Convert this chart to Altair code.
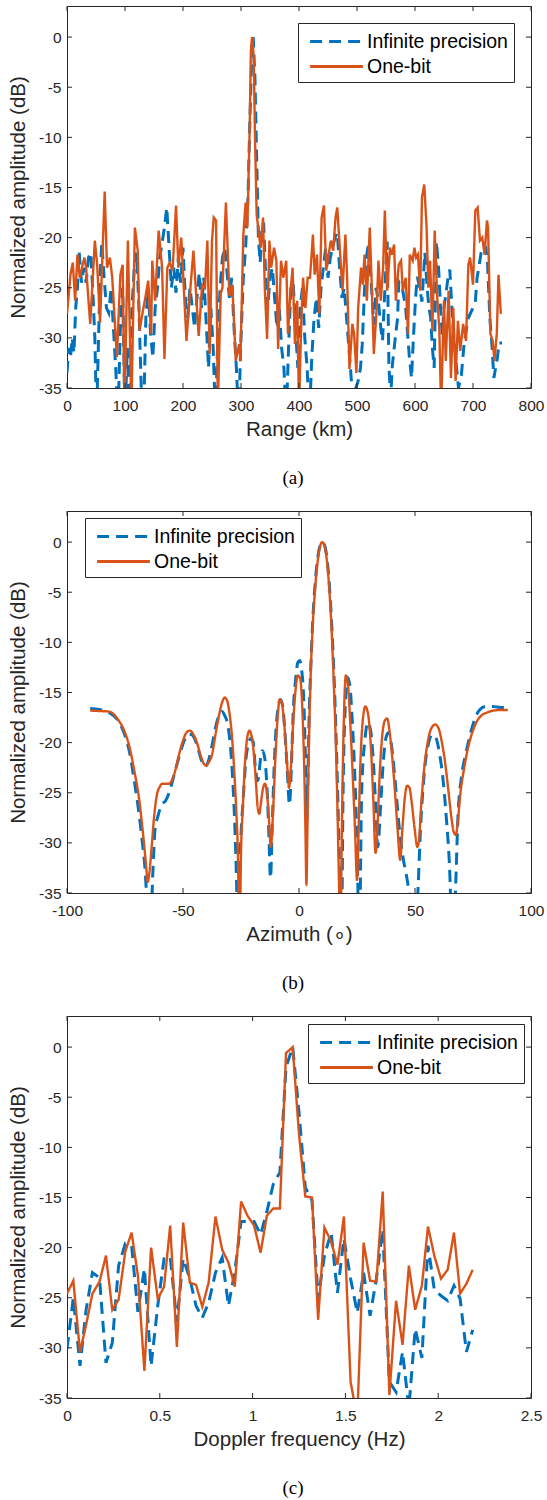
import altair as alt
import pandas as pd

# ---------------- data ----------------
SERIES = ["Infinite precision", "One-bit"]
COLORS = ["#0072BD", "#D95319"]
Y_TICKS = [-35, -30, -25, -20, -15, -10, -5, 0]

# (a) range profile
range_ticks = [0, 100, 200, 300, 400, 500, 600, 700, 800]
range_ip_km = [0, 3, 6, 9, 12, 15, 18, 21, 25, 29, 33, 37, 41, 45, 48, 51, 54, 57, 60, 64, 68,
               72, 76, 80, 84, 88, 92, 96, 100, 104, 108, 112, 116, 120, 124, 128, 132, 136, 140, 144, 148,
               152, 156, 160, 164, 168, 172, 176, 180, 184, 188, 192, 196, 200, 204, 208, 212, 216, 220, 224, 228,
               232, 236, 240, 244, 248, 252, 256, 260, 264, 268, 272, 276, 280, 284, 288, 292, 296, 300, 304, 308,
               312, 315, 318, 321, 324, 327, 330, 333, 336, 339, 342, 346, 350, 354, 358, 362, 366, 370, 374, 378,
               382, 386, 390, 394, 398, 402, 406, 410, 414, 418, 422, 426, 430, 434, 438, 442, 446, 450, 454, 458,
               462, 466, 470, 474, 478, 482, 486, 490, 494, 498, 502, 506, 509, 515, 520, 524, 529, 533, 537, 541,
               544, 549, 552, 555, 558, 561, 566, 570, 572, 578, 584, 590, 594, 597, 601, 604, 608, 612, 617, 621,
               624, 627, 630, 633, 637, 641, 644, 647, 650, 653, 657, 660, 664, 667, 670, 675, 680, 684, 687, 692,
               696, 700, 704, 707, 710, 714, 719, 722, 725, 729, 733, 736, 739, 742, 745, 750]
range_ip_db = [-33.5, -31, -32, -30, -31.5, -27, -25, -21.5, -24.5, -23, -24.5, -22, -21.5, -26, -30, -38, -31, -24, -20.5, -24, -27,
               -27.5, -25, -29, -33, -38, -29, -25, -38, -31, -38, -27, -23, -21.5, -27, -35, -38, -28, -25, -29.5, -32,
               -27, -25, -22, -20.5, -19, -17, -21, -25, -23, -25.5, -22, -24.5, -21, -26, -28, -25, -27, -29, -26, -23.5,
               -27, -24, -28.5, -33, -27, -31, -38, -30, -25, -22, -21, -23.5, -26, -24, -29, -33, -38, -30, -24, -21,
               -16, -9, -3, 0, -4, -12, -20, -22.5, -19, -18.5, -23, -27, -24, -23, -26, -29, -27, -31, -33, -38,
               -31, -25, -24.5, -29, -33, -27, -25, -30, -33, -38, -32, -28, -26, -29, -25, -23, -21, -24, -22, -21,
               -20, -19.5, -23, -26, -25, -28, -31, -34, -38, -35, -34.3, -33, -30.7, -22.4, -20.5, -24, -28.7, -25, -26.4, -29,
               -30.3, -24, -20.4, -32.7, -36, -32.7, -30, -28, -24.4, -25, -27, -31.7, -34, -30.3, -26, -23.9, -25, -26.4, -21.5, -25,
               -27, -28, -31, -33, -20.4, -23.4, -27, -29.7, -27, -25.7, -24, -23.2, -27.4, -30, -32, -35, -33.7, -31, -29.7, -28,
               -27.5, -27, -26.4, -24, -23, -21.5, -20.7, -21, -22.4, -28, -31, -34, -33, -32, -30.5, -30.5]
range_ob_km = [0, 6, 10, 14, 18, 22, 27, 30, 33, 40, 48, 52, 57, 65, 69, 74, 78, 86, 92, 96,
               99, 105, 111, 117, 122, 125, 130, 135, 140, 145, 147, 152, 158, 164, 168, 173, 177, 182, 188, 192,
               197, 206, 211, 218, 227, 233, 238, 242, 246, 250, 253, 257, 260, 265, 268, 274, 280, 285, 291, 297,
               299, 304, 308, 311, 315, 317, 319, 322, 324, 327, 331, 334, 338, 341, 345, 349, 352, 357, 361, 364,
               369, 373, 378, 381, 385, 389, 393, 397, 400, 404, 407, 411, 415, 419, 424, 427, 431, 435, 439, 443,
               447, 451, 455, 459, 463, 466, 471, 475, 480, 483, 487, 492, 495, 499, 502, 507, 510, 513, 517, 522,
               525, 529, 534, 537, 541, 545, 548, 552, 557, 560, 564, 567, 572, 576, 579, 584, 588, 591, 596, 599,
               602, 605, 609, 612, 616, 620, 623, 626, 630, 634, 638, 642, 645, 650, 653, 658, 662, 666, 670, 674,
               678, 683, 688, 692, 695, 700, 704, 708, 712, 716, 720, 724, 726, 730, 734, 737, 741, 744, 748]
range_ob_db = [-27.6, -23.7, -22.5, -26.3, -21.7, -24.0, -22.7, -22.0, -23.0, -28.6, -20.3, -22.7, -28.5, -15.4, -23.0, -22.0, -24.0, -31.9, -23.7, -22.7,
               -37.0, -20.3, -37.0, -19.0, -21.3, -29.3, -27.6, -26.0, -24.3, -29.6, -22.3, -26.3, -19.3, -23.0, -32.1, -23.0, -22.5, -23.3, -16.8, -23.0,
               -20.0, -30.3, -26.3, -21.3, -29.8, -24.7, -25.0, -20.3, -31.6, -20.3, -18.0, -18.3, -37.0, -25.6, -25.0, -16.5, -25.8, -24.7, -32.3, -30.6,
               -32.3, -19.7, -16.5, -19.0, -9.0, -1.4, 0.0, -2.0, -9.7, -17.7, -19.7, -21.0, -18.0, -25.0, -30.1, -20.3, -23.0, -21.0, -22.3, -31.1,
               -22.3, -24.0, -22.3, -29.6, -25.6, -23.0, -30.6, -26.3, -37.0, -28.3, -24.0, -27.0, -24.0, -24.0, -19.7, -23.7, -21.7, -27.6, -18.0, -16.8,
               -23.3, -21.7, -20.3, -21.3, -18.0, -17.0, -21.7, -25.3, -19.7, -24.0, -33.1, -28.6, -29.6, -33.5, -27.0, -23.0, -24.7, -21.7, -26.3, -19.0,
               -24.0, -31.6, -27.0, -22.3, -26.3, -23.0, -17.3, -25.3, -21.0, -21.7, -20.7, -26.3, -22.7, -22.3, -25.3, -24.0, -29.6, -21.7, -22.3, -21.0,
               -22.0, -21.7, -25.3, -16.0, -14.7, -19.0, -25.0, -22.3, -29.3, -19.3, -25.6, -29.3, -37.0, -26.3, -32.3, -25.3, -34.0, -27.0, -34.3, -28.3,
               -31.3, -28.6, -30.3, -22.7, -22.0, -24.7, -17.3, -17.0, -20.3, -20.0, -21.7, -18.3, -19.0, -29.6, -30.3, -32.3, -29.6, -23.7, -27.6]

# (b) azimuth profile
az_ticks = [-100, -50, 0, 50, 100]
az_ip_deg = [-90, -86, -82, -78, -75, -73, -71, -69, -67.5, -66.4, -65.5, -64.2, -63, -62, -61, -59.2, -57.5, -56, -54.5, -53,
             -51.3, -49.5, -48, -46.5, -45, -43.5, -42, -40.5, -39, -37.5, -36, -34.5, -33.3, -32, -30.5, -29.5, -28.5, -27.6, -26.8, -26.4,
             -25.5, -24, -22.8, -21.8, -20.8, -19.8, -18.8, -17.8, -16.5, -15.8, -14.8, -13.8, -13, -12.3, -11.5, -10.8, -10, -9, -8, -7,
             -6, -5, -4.1, -3.3, -2.5, -1.5, -0.5, 0.3, 1, 2, 2.7, 3.3, 3.8, 4.4, 5, 6, 7, 8, 9, 10,
             11, 12, 13, 14, 15, 16, 17, 17.6, 18.2, 19, 20, 21, 22, 23, 24, 25, 26, 27, 28.5, 29.7,
             31, 32.2, 33.2, 34, 35, 36.3, 37.5, 38.6, 40, 41.5, 43, 44.8, 46.5, 48, 49.5, 51, 52.5, 54, 55.7, 57.5,
             59, 60.5, 62, 63.5, 65, 66, 67.4, 68.6, 70, 72, 74, 76, 78, 80.5, 83.6, 87, 90]
az_ip_db = [-16.6, -16.7, -17.0, -17.8, -19.3, -21.0, -23.8, -27.0, -30.0, -32.5, -36.0, -40.0, -33.0, -28.5, -27.5, -26.2, -25.8, -25.0, -23.8, -22.5,
            -21.1, -19.8, -19.2, -19.2, -19.6, -20.6, -21.8, -22.4, -21.8, -20.3, -18.5, -17.3, -16.9, -17.3, -18.5, -20.5, -24.0, -28.7, -35.0, -40.0,
            -32.0, -25.4, -21.5, -20.1, -19.6, -19.9, -22.5, -23.8, -21.5, -20.8, -21.5, -24.5, -29.0, -33.5, -28.0, -23.0, -19.0, -16.5, -15.7, -16.4,
            -19.2, -23.0, -26.2, -22.5, -17.0, -13.8, -12.0, -11.8, -12.5, -15.5, -21.0, -28.0, -24.0, -17.0, -13.0, -7.5, -4.0, -1.7, -0.4, 0.0,
            -0.3, -1.5, -4.0, -7.8, -12.8, -19.5, -28.0, -34.0, -42.0, -25.0, -16.0, -13.5, -14.5, -18.0, -23.0, -30.0, -40.0, -25.0, -19.5, -18.0,
            -19.0, -22.5, -27.0, -30.4, -27.0, -22.0, -19.5, -19.0, -20.5, -24.0, -28.0, -31.4, -33.5, -36.0, -40.0, -36.0, -28.0, -23.0, -20.2, -19.2,
            -19.5, -21.0, -23.5, -27.5, -33.0, -40.0, -35.0, -27.0, -23.5, -21.0, -19.0, -17.5, -16.7, -16.4, -16.4, -16.5, -16.5]
az_ob_deg = [-90, -86, -82, -78, -75, -73, -71, -69, -67.5, -66, -65.2, -64.5, -63.5, -62.5, -61.4, -60, -59, -57.5, -56, -54.5,
             -53, -51.5, -50, -48.5, -47, -45.5, -44, -42.5, -41, -40, -39, -37.5, -36, -34.5, -33, -32, -31, -30, -29, -28,
             -27, -26.4, -25.6, -25, -24.2, -23.3, -22.3, -21.4, -20.5, -19.5, -18.5, -17.8, -17.1, -16.5, -15.7, -14.7, -13.8, -13, -12.1, -11.3,
             -10.3, -9.3, -8.3, -7.3, -6.3, -5.3, -4.3, -3.5, -2.5, -1.5, -0.5, 0.5, 1.5, 2.3, 2.8, 3.2, 3.6, 4.2, 5, 6,
             7, 8, 9, 10, 11, 12, 13, 14, 15, 16, 16.8, 17.4, 17.8, 18.4, 19.2, 20.2, 21.2, 22.2, 23.2, 24.2,
             25, 25.6, 26.4, 27.4, 28.6, 29.8, 31, 32, 33, 33.8, 34.6, 35.8, 37, 38, 39, 40.2, 41.4, 42.6, 43.6, 44.6,
             45.6, 46.6, 47.6, 48.6, 49.8, 51, 51.8, 52.6, 54, 55.6, 57.2, 58.8, 60.2, 61.6, 63, 64.4, 65.6, 66.8, 67.6, 68.4,
             69.6, 71, 72.6, 74.4, 76.4, 78.6, 81, 84, 87, 90]
az_ob_db = [-16.8, -16.85, -16.9, -17.7, -19.0, -20.5, -22.8, -25.5, -28.5, -32.0, -33.9, -33.0, -30.4, -27.5, -25.4, -24.4, -24.1, -24.1, -24.1, -23.6,
            -22.5, -21.0, -19.8, -19.0, -18.8, -19.2, -20.0, -21.2, -22.1, -22.3, -22.0, -21.2, -19.2, -17.3, -15.9, -15.5, -15.8, -17.0, -19.1, -22.5,
            -27.0, -30.4, -40.0, -31.0, -26.5, -22.1, -19.5, -18.8, -19.3, -21.0, -24.2, -26.5, -27.1, -26.2, -24.8, -24.1, -25.0, -27.5, -30.4, -27.5,
            -22.1, -17.8, -15.7, -16.2, -18.3, -21.5, -24.5, -22.5, -18.0, -14.8, -13.3, -13.6, -17.0, -23.0, -29.0, -34.2, -29.0, -21.0, -13.5, -8.0,
            -4.5, -2.0, -0.5, 0.0, -0.4, -1.8, -4.5, -8.5, -14.0, -21.0, -29.0, -36.0, -42.0, -30.0, -19.0, -13.3, -14.5, -18.5, -23.5, -29.0,
            -33.7, -29.5, -22.5, -18.0, -16.4, -17.2, -20.5, -25.5, -31.0, -28.5, -24.0, -19.5, -17.8, -17.6, -18.8, -21.5, -25.0, -29.0, -31.7, -28.5,
            -25.5, -24.3, -24.5, -26.0, -28.5, -30.4, -29.5, -26.5, -22.5, -19.8, -18.5, -18.2, -18.6, -20.0, -22.0, -24.8, -27.3, -29.0, -29.2, -28.0,
            -25.0, -22.8, -20.8, -19.2, -18.0, -17.3, -17.0, -16.8, -16.75, -16.75]

# (c) Doppler profile
dop_ticks = [0, 0.5, 1, 1.5, 2, 2.5]
dop_hz = [0, 0.034, 0.07, 0.103, 0.137, 0.175, 0.21, 0.244, 0.278, 0.314,
          0.348, 0.382, 0.417, 0.453, 0.489, 0.523, 0.556, 0.592, 0.626, 0.662,
          0.695, 0.729, 0.763, 0.8, 0.836, 0.87, 0.904, 0.938, 0.972, 1.008,
          1.043, 1.077, 1.111, 1.147, 1.18, 1.216, 1.25, 1.284, 1.32, 1.353,
          1.387, 1.423, 1.457, 1.492, 1.528, 1.564, 1.598, 1.633, 1.667, 1.701,
          1.737, 1.773, 1.808, 1.842, 1.876, 1.912, 1.945, 1.979, 2.015, 2.051,
          2.085, 2.118, 2.152, 2.186]
dop_ip_db = [-30.1, -25.0, -31.8, -26.2, -22.5, -23.0, -31.5, -29.5, -21.8, -19.6,
             -19.8, -26.4, -22.1, -31.8, -25.8, -21.1, -20.9, -27.4, -21.1, -23.1,
             -25.8, -27.0, -25.5, -22.5, -21.0, -25.8, -22.4, -17.4, -17.4, -17.4,
             -18.7, -16.4, -13.7, -12.5, -2.0, 0.0, -6.5, -14.0, -15.3, -25.1,
             -20.8, -18.5, -24.5, -19.1, -23.1, -26.5, -22.5, -26.8, -23.1, -18.2,
             -33.4, -34.4, -30.4, -36.0, -28.1, -31.0, -19.8, -24.2, -24.8, -25.3,
             -23.8, -25.1, -30.4, -28.2]
dop_ob_db = [-24.6, -23.3, -30.4, -27.7, -24.6, -23.4, -20.8, -26.2, -25.2, -20.4,
             -18.5, -22.8, -32.3, -20.0, -25.1, -23.9, -17.8, -29.9, -17.5, -23.5,
             -23.7, -25.9, -23.5, -16.9, -20.2, -21.5, -23.9, -15.4, -16.8, -17.8,
             -20.5, -16.8, -16.1, -16.1, -0.6, 0.0, -8.7, -14.9, -15.0, -27.2,
             -18.0, -19.4, -21.7, -16.9, -33.4, -37.0, -19.5, -23.3, -23.4, -14.4,
             -34.7, -25.3, -29.7, -21.8, -26.2, -23.8, -17.9, -20.8, -23.1, -22.2,
             -18.5, -24.6, -23.6, -22.2]

# ---------------- styling ----------------
AX = "#262626"
FONT = "Liberation Sans"
W, H = 464, 382
YDOM = [-35, 3.1]


def series_df(xs, ys, name):
    if len(xs) != len(ys):
        raise ValueError(f"length mismatch for {name}: {len(xs)} vs {len(ys)}")
    return pd.DataFrame({"x": xs, "y": ys, "series": name})


def panel(xb, yb, xo, yo, xdom, xticks, xtitle, caption, lx, ly, interp="linear"):
    xscale = alt.Scale(domain=xdom, nice=False, zero=False)
    yscale = alt.Scale(domain=YDOM, nice=False, zero=False)
    xenc = alt.X("x:Q", scale=xscale,
                 axis=alt.Axis(values=xticks, title=xtitle, labelExpr="'' + datum.value",
                               labelFlush=False, labelPadding=10, titlePadding=6))
    yenc = alt.Y("y:Q", scale=yscale,
                 axis=alt.Axis(values=Y_TICKS, title="Normalized amplitude (dB)",
                               labelExpr="'' + datum.value", labelFlush=False,
                               labelPadding=6, titlePadding=10))
    leg = alt.Legend(title=None, orient="none", legendX=lx, legendY=ly, direction="vertical",
                     fillColor="white", strokeColor=AX, padding=6,
                     symbolType="M-2.4,0H2.4", symbolSize=484, symbolStrokeWidth=2.8,
                     symbolOffset=20, labelOffset=18, labelFont=FONT, labelFontSize=19.5,
                     labelColor="black", rowPadding=3, labelLimit=400)
    color = alt.Color("series:N", scale=alt.Scale(domain=SERIES, range=COLORS), legend=leg)
    dash = alt.StrokeDash("series:N", scale=alt.Scale(domain=SERIES, range=[[12, 7], [1, 0]]), legend=leg)

    blue = alt.Chart(series_df(xb, yb, SERIES[0])).mark_line(
        clip=True, strokeWidth=3, interpolate=interp).encode(x=xenc, y=yenc, color=color, strokeDash=dash)
    orange = alt.Chart(series_df(xo, yo, SERIES[1])).mark_line(
        clip=True, strokeWidth=2.4, interpolate=interp).encode(x=xenc, y=yenc, color=color, strokeDash=dash)

    xt = pd.DataFrame({"x": xticks})
    yt = pd.DataFrame({"y": Y_TICKS})
    tl = 5
    t_bottom = alt.Chart(xt).mark_rule(color=AX, strokeWidth=1).encode(
        x=xenc, y=alt.value(H), y2=alt.value(H - tl))
    t_top = alt.Chart(xt).mark_rule(color=AX, strokeWidth=1).encode(
        x=xenc, y=alt.value(0), y2=alt.value(tl))
    t_left = alt.Chart(yt).mark_rule(color=AX, strokeWidth=1).encode(
        y=yenc, x=alt.value(0), x2=alt.value(tl))
    t_right = alt.Chart(yt).mark_rule(color=AX, strokeWidth=1).encode(
        y=yenc, x=alt.value(W - tl), x2=alt.value(W))

    return alt.layer(blue, orange, t_bottom, t_top, t_left, t_right).properties(
        width=W, height=H,
        title=alt.TitleParams(caption, orient="bottom", anchor="middle", font="Liberation Serif",
                              fontSize=19, fontWeight="normal", color="black", offset=29, dx=-6))


pa = panel(range_ip_km, range_ip_db, range_ob_km, range_ob_db, [0, 800], range_ticks,
           "Range (km)", "(a)", 231, 17)
pb = panel(az_ip_deg, az_ip_db, az_ob_deg, az_ob_db, [-100, 100], az_ticks,
           "Azimuth (\u2218)", "(b)", 18, 7, interp="monotone")
pc = panel(dop_hz, dop_ip_db, dop_hz, dop_ob_db, [0, 2.5], dop_ticks,
           "Doppler frequency (Hz)", "(c)", 241, 8)

chart = alt.vconcat(pa, pb, pc, spacing=21).resolve_scale(
    color="independent", strokeDash="independent"
).resolve_legend(
    color="independent", strokeDash="independent"
).properties(
    padding={"left": 8, "top": 5, "right": 0, "bottom": 0}
).configure_view(stroke=AX, strokeWidth=1).configure_axis(
    grid=False, domain=False, ticks=False, tickSize=0,
    labelFont=FONT, labelFontSize=15.5, labelColor=AX,
    titleFont=FONT, titleFontSize=20.5, titleFontWeight="normal", titleColor=AX
).configure_legend(strokeWidth=1)

chart.save("out.html", embed_options={"renderer": "svg", "actions": False})
